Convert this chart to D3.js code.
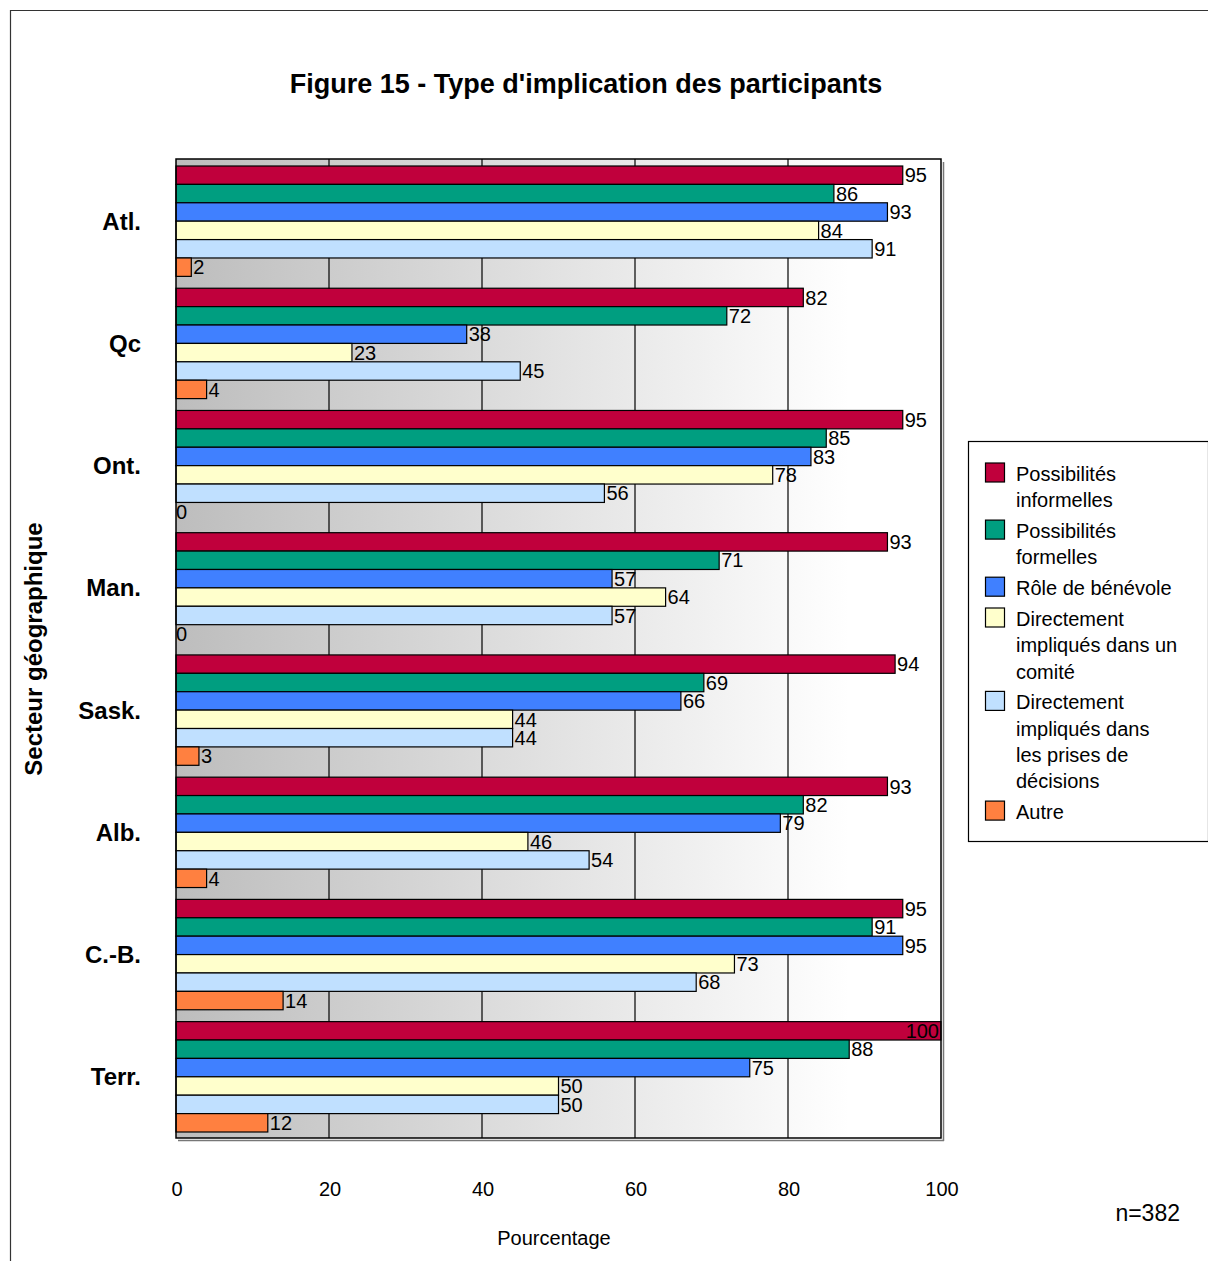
<!DOCTYPE html>
<html>
<head>
<meta charset="utf-8">
<script src="https://cdn.jsdelivr.net/npm/d3@7"></script>
<style>
  html, body { margin: 0; padding: 0; background: #ffffff; }
  svg { display: block; font-family: "Liberation Sans", Arial, sans-serif; }
</style>
</head>
<body>
<svg id="chart" width="1208" height="1261"></svg>
<script>
const categories = ["Atl.", "Qc", "Ont.", "Man.", "Sask.", "Alb.", "C.-B.", "Terr."];
const seriesNames = [
  "Possibilités informelles",
  "Possibilités formelles",
  "Rôle de bénévole",
  "Directement impliqués dans un comité",
  "Directement impliqués dans les prises de décisions",
  "Autre"
];
const legendLines = [
  ["Possibilités", "informelles"],
  ["Possibilités", "formelles"],
  ["Rôle de bénévole"],
  ["Directement", "impliqués dans un", "comité"],
  ["Directement", "impliqués dans", "les prises de", "décisions"],
  ["Autre"]
];
const possibilitesInformelles = [95, 82, 95, 93, 94, 93, 95, 100];
const possibilitesFormelles   = [86, 72, 85, 71, 69, 82, 91, 88];
const roleBenevole            = [93, 38, 83, 57, 66, 79, 95, 75];
const comite                  = [84, 23, 78, 64, 44, 46, 73, 50];
const prisesDecisions         = [91, 45, 56, 57, 44, 54, 68, 50];
const autre                   = [2, 4, 0, 0, 3, 4, 14, 12];
const seriesValues = [possibilitesInformelles, possibilitesFormelles, roleBenevole, comite, prisesDecisions, autre];
const colors = ["#c0003c", "#009e80", "#4080ff", "#ffffcc", "#c0e0ff", "#ff8040"];
const xTicks = [0, 20, 40, 60, 80, 100];

const svg = d3.select("#chart");

// outer frame
svg.append("path").attr("d", "M10.5,1261 L10.5,10.5 L1208,10.5")
  .attr("fill", "none").attr("stroke", "#333").attr("stroke-width", 1.2);

// title
svg.append("text").attr("x", 586).attr("y", 93).attr("text-anchor", "middle")
  .attr("font-size", 27).attr("font-weight", "bold").text("Figure 15 - Type d'implication des participants");

const plot = { left: 176, right: 941, top: 159, bottom: 1138 };

const x = d3.scaleLinear().domain([0, 100]).range([plot.left, plot.right]);
const y = d3.scaleBand().domain(categories).range([166, 1132]).paddingInner(0.097).paddingOuter(0);
const ySub = d3.scaleBand().domain(d3.range(seriesNames.length)).range([0, y.bandwidth()]);

// gradient background
const defs = svg.append("defs");
const grad = defs.append("linearGradient").attr("id", "bg").attr("x1", "0").attr("x2", "1").attr("y1", "0").attr("y2", "0");
grad.append("stop").attr("offset", "0").attr("stop-color", "#bdbdbd");
grad.append("stop").attr("offset", "0.88").attr("stop-color", "#ffffff");
grad.append("stop").attr("offset", "1").attr("stop-color", "#ffffff");

// shadow lines
svg.append("line").attr("x1", plot.right + 2.5).attr("x2", plot.right + 2.5).attr("y1", plot.top + 3).attr("y2", plot.bottom + 3)
  .attr("stroke", "#777").attr("stroke-width", 1.5);
svg.append("line").attr("x1", plot.left + 2).attr("x2", plot.right + 3).attr("y1", plot.bottom + 2.5).attr("y2", plot.bottom + 2.5)
  .attr("stroke", "#777").attr("stroke-width", 1.5);

svg.append("rect").attr("x", plot.left).attr("y", plot.top).attr("width", plot.right - plot.left).attr("height", plot.bottom - plot.top)
  .attr("fill", "url(#bg)");

// gridlines
svg.append("g").selectAll("line").data(xTicks.filter(t => t > 0 && t < 100)).join("line")
  .attr("x1", d => x(d)).attr("x2", d => x(d)).attr("y1", plot.top).attr("y2", plot.bottom)
  .attr("stroke", "#000").attr("stroke-width", 1.2);

// bars
const groups = svg.append("g").selectAll("g").data(categories).join("g")
  .attr("transform", d => `translate(0,${y(d)})`);

groups.each(function(cat, ci) {
  const g = d3.select(this);
  seriesValues.forEach((vals, si) => {
    const v = vals[ci];
    if (v > 0) {
      g.append("rect")
        .attr("x", x(0)).attr("y", ySub(si))
        .attr("width", x(v) - x(0)).attr("height", ySub.bandwidth())
        .attr("fill", colors[si]).attr("stroke", "#000").attr("stroke-width", 1.2);
    }
  });
  seriesValues.forEach((vals, si) => {
    const v = vals[ci];
    const inside = v >= 100;
    g.append("text")
      .attr("x", inside ? x(v) - 2 : x(v) + (v > 0 ? 2 : 0))
      .attr("y", ySub(si) + ySub.bandwidth() / 2)
      .attr("dy", "0.36em")
      .attr("text-anchor", inside ? "end" : "start")
      .attr("font-size", 20).attr("fill", "#000")
      .text(v);
  });
});

// plot border
svg.append("rect").attr("x", plot.left).attr("y", plot.top).attr("width", plot.right - plot.left).attr("height", plot.bottom - plot.top)
  .attr("fill", "none").attr("stroke", "#000").attr("stroke-width", 1.5);

// category labels
svg.append("g").selectAll("text").data(categories).join("text")
  .attr("x", 141).attr("y", d => y(d) + y.bandwidth() / 2).attr("dy", "0.35em")
  .attr("text-anchor", "end").attr("font-size", 24).attr("font-weight", "bold").text(d => d);

// x tick labels
svg.append("g").selectAll("text").data(xTicks).join("text")
  .attr("x", d => x(d) + 1).attr("y", 1196).attr("text-anchor", "middle")
  .attr("font-size", 20).text(d => d);

// axis titles
svg.append("text").attr("x", 554).attr("y", 1245).attr("text-anchor", "middle").attr("font-size", 20).text("Pourcentage");
svg.append("text").attr("transform", "translate(42,649) rotate(-90)").attr("text-anchor", "middle")
  .attr("font-size", 24).attr("font-weight", "bold").text("Secteur géographique");
svg.append("text").attr("x", 1180).attr("y", 1221).attr("text-anchor", "end").attr("font-size", 23).text("n=382");

// legend
svg.append("rect").attr("x", 968.5).attr("y", 441.5).attr("width", 240).attr("height", 400)
  .attr("fill", "#fff").attr("stroke", "#000").attr("stroke-width", 1.2);
let cy = 474;
const lineH = 26.3, itemGap = 4.5;
legendLines.forEach((lines, i) => {
  svg.append("rect").attr("x", 985.5).attr("y", cy - 11).attr("width", 19).attr("height", 19)
    .attr("fill", colors[i]).attr("stroke", "#000").attr("stroke-width", 1.2);
  lines.forEach((ln, li) => {
    svg.append("text").attr("x", 1016).attr("y", cy + li * lineH + 7).attr("font-size", 20).text(ln);
  });
  cy += lines.length * lineH + itemGap;
});
</script>
</body>
</html>
